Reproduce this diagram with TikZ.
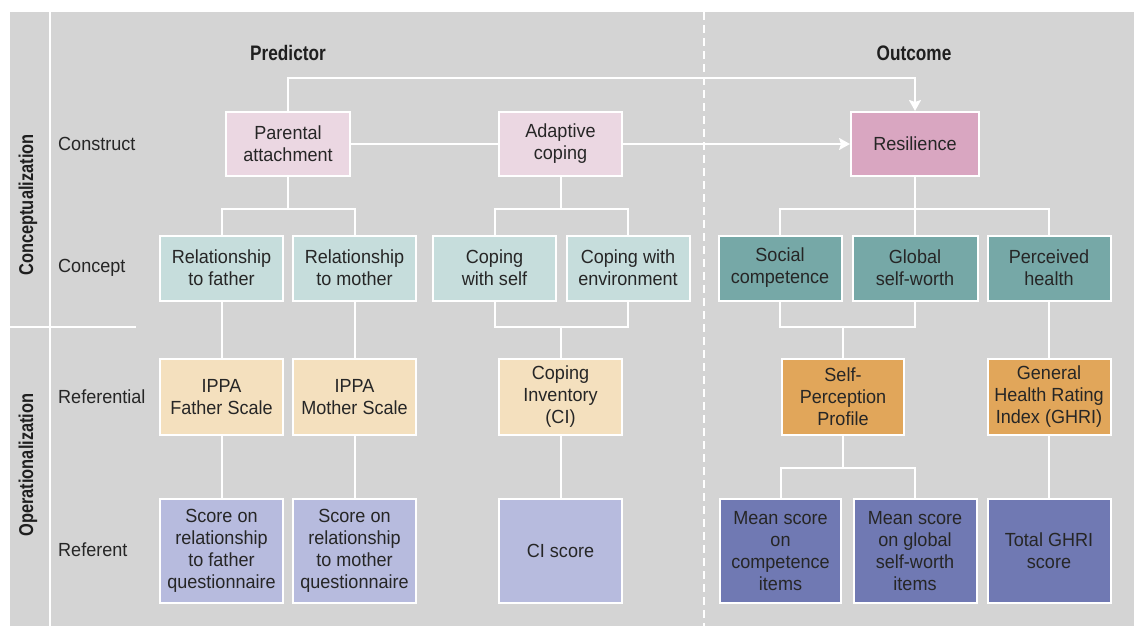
\documentclass[tikz,border=0pt]{standalone}
\usepackage{fontspec}
\setmainfont{Liberation Sans}[FakeStretch=0.95]
\newfontfamily\sidefont{Liberation Sans}[FakeStretch=0.82]
\usetikzlibrary{arrows.meta,calc}

\definecolor{panel}{HTML}{D4D4D4}
\definecolor{ink}{HTML}{262626}
\definecolor{pinkL}{HTML}{EBD7E2}
\definecolor{pinkD}{HTML}{D9A6C1}
\definecolor{tealL}{HTML}{C6DDDC}
\definecolor{tealD}{HTML}{76A8A7}
\definecolor{tanL}{HTML}{F4E0BE}
\definecolor{tanD}{HTML}{E1A65A}
\definecolor{lavL}{HTML}{B7BBDE}
\definecolor{lavD}{HTML}{7079B3}

\tikzset{
  box/.style={draw=white, line width=2pt, text=ink, align=center,
    minimum width=123pt, inner sep=2pt,
    font=\fontsize{19}{22}\selectfont},
  conbox/.style={box, minimum height=64pt},
  cptbox/.style={box, minimum height=65pt},
  refbox/.style={box, minimum height=76pt},
  rftbox/.style={box, minimum height=104pt},
  link/.style={draw=white, line width=2pt},
  arrowlink/.style={link, -{Stealth[length=11pt,width=12pt,inset=2pt]}},
  rowlabel/.style={anchor=west, text=ink, inner sep=0pt,
    font=\fontsize{19}{22}\selectfont},
  header/.style={text=black!88, inner sep=0pt,
    font=\sidefont\bfseries\fontsize{21}{24}\selectfont},
  sidelabel/.style={text=black!88, inner sep=0pt, rotate=90,
    font=\sidefont\bfseries\fontsize{20}{22}\selectfont},
}

\begin{document}
\begin{tikzpicture}[x=1pt,y=-1pt]
  % canvas and panel
  \useasboundingbox (0,0) rectangle (1134,626);
  \fill[white] (0,0) rectangle (1134,626);
  \fill[panel] (10,12) rectangle (1134,626);

  % frame lines
  \draw[link] (50,12) -- (50,626);
  \draw[link] (10,327) -- (136,327);
  \draw[draw=white, line width=2.5pt, dash pattern=on 8pt off 5pt] (704,12) -- (704,626);

  % side and row labels
  \node[sidelabel] (lconc) at (28,205) {Conceptualization};
  \node[sidelabel] (lop) at (28,465) {Operationalization};
  \node[rowlabel] (rconstruct) at (58,144) {Construct};
  \node[rowlabel] (rconcept) at (58,268) {Concept};
  \node[rowlabel] (rreferential) at (58,397) {Referential};
  \node[rowlabel] (rreferent) at (58,550) {Referent};

  % column headers
  \node[header] (hpred) at (288,53) {Predictor};
  \node[header] (hout) at (914,53) {Outcome};

  % constructs
  \node[conbox, fill=pinkL, minimum width=124pt] (pa) at (288,144) {Parental\\attachment};
  \node[conbox, fill=pinkL] (ac) at (560.5,144) {Adaptive\\coping};
  \node[conbox, fill=pinkD, minimum width=128pt] (res) at (915,144) {Resilience};

  % concepts
  \node[cptbox, fill=tealL] (rf) at (221.5,268) {Relationship\\to father};
  \node[cptbox, fill=tealL] (rm) at (354.5,268) {Relationship\\to mother};
  \node[cptbox, fill=tealL] (cs) at (494.5,268) {Coping\\with self};
  \node[cptbox, fill=tealL] (ce) at (628,268) {Coping with\\environment};
  \node[cptbox, fill=tealD] (sc) at (780,268) {Social\\competence};
  \node[cptbox, fill=tealD, minimum width=125pt] (gs) at (915,268) {Global\\self-worth};
  \node[cptbox, fill=tealD] (ph) at (1049,268) {Perceived\\health};

  % referentials
  \node[refbox, fill=tanL] (ipf) at (221.5,397) {IPPA\\Father Scale};
  \node[refbox, fill=tanL] (ipm) at (354.5,397) {IPPA\\Mother Scale};
  \node[refbox, fill=tanL] (ci) at (560.5,397) {Coping\\Inventory\\(CI)};
  \node[refbox, fill=tanD, minimum width=122pt] (spp) at (843,397) {Self-\\Perception\\Profile};
  \node[refbox, fill=tanD] (ghri) at (1049,397) {General\\Health Rating\\Index (GHRI)};

  % referents
  \node[rftbox, fill=lavL] (sf) at (221.5,551) {Score on\\relationship\\to father\\questionnaire};
  \node[rftbox, fill=lavL] (sm) at (354.5,551) {Score on\\relationship\\to mother\\questionnaire};
  \node[rftbox, fill=lavL] (cis) at (560.5,551) {CI score};
  \node[rftbox, fill=lavD, minimum width=121pt] (mc) at (780.5,551) {Mean score\\on\\competence\\items};
  \node[rftbox, fill=lavD] (mg) at (915,551) {Mean score\\on global\\self-worth\\items};
  \node[rftbox, fill=lavD] (tg) at (1049,551) {Total GHRI\\score};

  % junction points of the branching connectors
  \coordinate (jpa) at (pa.south |- 0,209);
  \coordinate (jac) at (ac.south |- 0,209);
  \coordinate (jres) at (res.south |- 0,209);
  \coordinate (jci) at (ci.north |- 0,327);
  \coordinate (jspp) at (spp.north |- 0,327);
  \coordinate (jlow) at (spp.south |- 0,468);

  % construct level links
  \draw[arrowlink] (pa.north) -- ++(0,-33) -| (res.north);
  \draw[link] (pa.east) -- (ac.west);
  \draw[arrowlink] (ac.east) -- (res.west);

  % construct to concept
  \draw[link] (pa.south) -- (jpa);
  \draw[link] (rf.north) |- (jpa) -| (rm.north);
  \draw[link] (ac.south) -- (jac);
  \draw[link] (cs.north) |- (jac) -| (ce.north);
  \draw[link] (res.south) -- (jres);
  \draw[link] (sc.north) |- (jres) -| (ph.north);
  \draw[link] (jres) -- (gs.north);

  % concept to referential
  \draw[link] (rf.south) -- (ipf.north);
  \draw[link] (rm.south) -- (ipm.north);
  \draw[link] (cs.south) |- (jci) -| (ce.south);
  \draw[link] (jci) -- (ci.north);
  \draw[link] (sc.south) |- (jspp) -| (gs.south);
  \draw[link] (jspp) -- (spp.north);
  \draw[link] (ph.south) -- (ghri.north);

  % referential to referent
  \draw[link] (ipf.south) -- (sf.north);
  \draw[link] (ipm.south) -- (sm.north);
  \draw[link] (ci.south) -- (cis.north);
  \draw[link] (spp.south) -- (jlow);
  \draw[link] (mc.north) |- (jlow) -| (mg.north);
  \draw[link] (ghri.south) -- (tg.north);
\end{tikzpicture}
\end{document}
